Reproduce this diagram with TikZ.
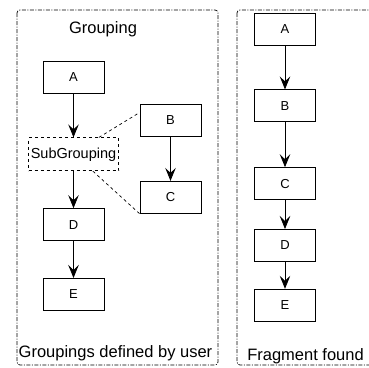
\documentclass[tikz,border=0pt]{standalone}
\usepackage{fontspec}
\setmainfont{Liberation Sans}
\usetikzlibrary{positioning,arrows.meta}

\begin{document}
\begin{tikzpicture}[x=1pt,y=-1pt,node distance=44pt,
	box/.style={draw,line width=0.8pt,minimum width=61pt,minimum height=32pt,inner sep=0pt,font=\fontsize{13}{13}\selectfont},
	subbox/.style={box,dashed,minimum width=90pt,minimum height=33pt,font=\fontsize{14.5}{14.5}\selectfont},
	frame/.style={line width=0.7pt,rounded corners=3pt,dash pattern=on 4pt off 1.5pt on 1pt off 1.5pt},
	title/.style={font=\fontsize{16.5}{16.5}\selectfont,anchor=base,inner sep=0pt},
	link/.style={line width=0.8pt,-{Stealth[length=13pt,width=10.5pt,inset=5pt]}},
	zoom/.style={line width=0.7pt,dashed}]
	\useasboundingbox (0,0) rectangle (369,367);
	\draw[frame] (17,10) rectangle (218,365);
	\draw[frame] (237,10) rectangle (390,365);
	\node[title] (t_g) at (103,33) {Grouping};
	\node[title] (t_u) at (115.5,357) {Groupings defined by user};
	\node[title] (t_f) at (305.5,360) {Fragment found};
	% user groupings
	\node[box] (g_a) at (73.5,77) {A};
	\node[subbox] (g_s) [below=44pt of g_a] {SubGrouping};
	\node[box] (g_d) [below=37pt of g_s] {D};
	\node[box] (g_e) [below=37pt of g_d] {E};
	\node[box] (g_b) at (170.5,120.5) {B};
	\node[box] (g_c) [below=44pt of g_b] {C};
	\path[link]
	(g_a) edge (g_s)
	(g_s) edge (g_d)
	(g_d) edge (g_e)
	(g_b) edge (g_c);
	\draw[zoom] ([xshift=-20pt]g_s.north east) -- ([yshift=8pt]g_b.west);
	\draw[zoom] ([xshift=-26pt]g_s.south east) -- (g_c.south west);
	% fragment
	\node[box] (f_a) at (285,29) {A};
	\node[box] (f_b) [below=of f_a] {B};
	\node[box] (f_c) [below=45pt of f_b] {C};
	\node[box] (f_d) [below=29pt of f_c] {D};
	\node[box] (f_e) [below=27pt of f_d] {E};
	\path[link]
	(f_a) edge (f_b)
	(f_b) edge (f_c)
	(f_c) edge (f_d)
	(f_d) edge (f_e);
\end{tikzpicture}
\end{document}
